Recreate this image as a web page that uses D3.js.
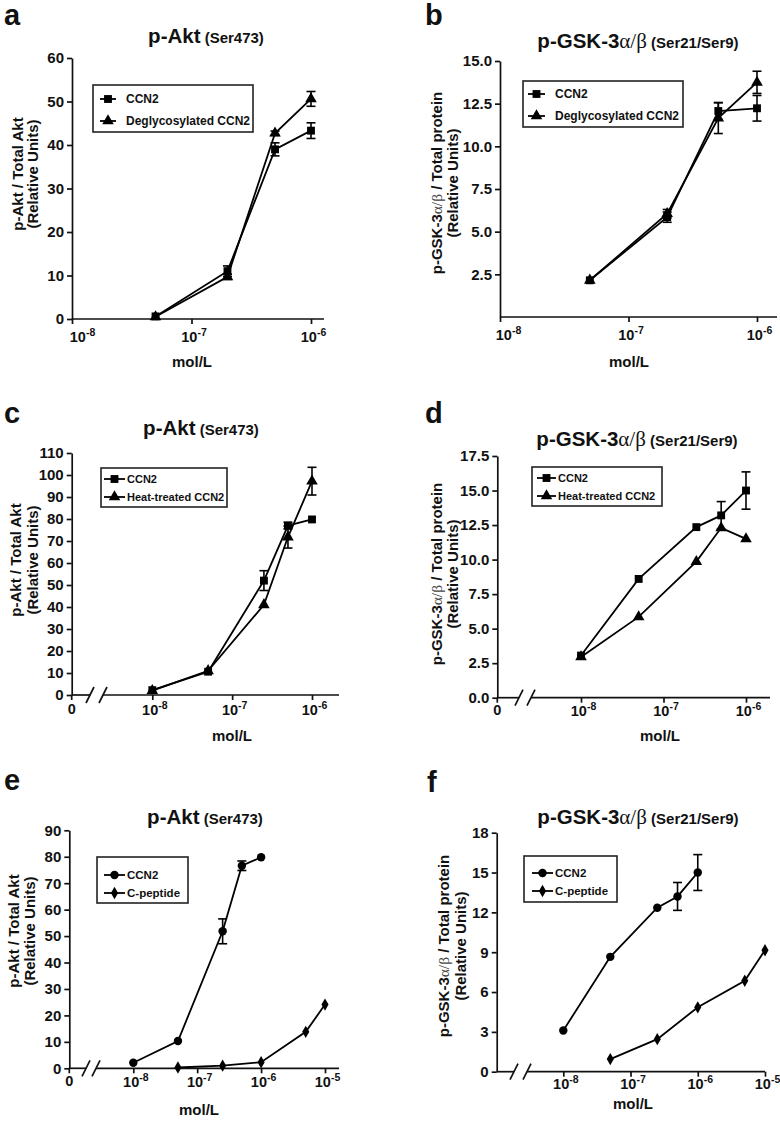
<!DOCTYPE html>
<html><head><meta charset="utf-8">
<script src="https://cdn.jsdelivr.net/npm/d3@7"></script>
<style>
body{margin:0;background:#fff}
svg{display:block}
</style>
</head><body>
<svg id="chart" width="780" height="1123"></svg>
<script>
// ---------------- DATA ----------------
// Panel a: p-Akt, CCN2 vs deglycosylated CCN2
const aConc = [5e-8, 2e-7, 5e-7, 1e-6];
const aCCN2 = [0.6, 11.0, 39.0, 43.3];
const aCCN2Err = [0, 1.2, 1.5, 1.8];
const aDegly = [0.5, 9.7, 42.7, 50.6];
const aDeglyErr = [0, 0.6, 0.5, 1.7];
const aYTicks = [0, 10, 20, 30, 40, 50, 60];

// Panel b: p-GSK-3a/b, CCN2 vs deglycosylated CCN2
const bConc = [5e-8, 2e-7, 5e-7, 1e-6];
const bCCN2 = [2.15, 5.85, 12.07, 12.23];
const bCCN2Err = [0, 0.3, 0.5, 0.75];
const bDegly = [2.15, 6.05, 11.65, 13.75];
const bDeglyErr = [0, 0.25, 0.9, 0.65];
const bYTicks = [2.5, 5.0, 7.5, 10.0, 12.5, 15.0];

// Panel c: p-Akt, CCN2 vs heat-treated CCN2
const cConc = [1e-8, 5e-8, 2.5e-7, 5e-7, 1e-6];
const cCCN2 = [2.2, 10.6, 52.0, 77.0, 79.8];
const cCCN2Err = [0, 0, 4.5, 1.5, 0];
const cHeat = [2.0, 11.0, 41.0, 71.8, 97.2];
const cHeatErr = [0, 0, 0, 5.0, 6.3];
const cYTicks = [0, 10, 20, 30, 40, 50, 60, 70, 80, 90, 100, 110];

// Panel d: p-GSK-3a/b, CCN2 vs heat-treated CCN2
const dConc = [1e-8, 5e-8, 2.5e-7, 5e-7, 1e-6];
const dCCN2 = [3.05, 8.6, 12.35, 13.2, 15.0];
const dCCN2Err = [0, 0, 0, 1.0, 1.35];
const dHeat = [2.95, 5.85, 9.85, 12.3, 11.5];
const dHeatErr = [0, 0, 0, 0, 0];
const dYTicks = [0, 2.5, 5.0, 7.5, 10.0, 12.5, 15.0, 17.5];

// Panel e: p-Akt, CCN2 vs C-peptide
const eConcCCN2 = [1e-8, 5e-8, 2.5e-7, 5e-7, 1e-6];
const eCCN2 = [2.1, 10.3, 51.8, 76.6, 79.8];
const eCCN2Err = [0, 0, 4.7, 1.8, 0];
const eConcCpep = [5e-8, 2.5e-7, 1e-6, 5e-6, 1e-5];
const eCpep = [0.3, 1.0, 2.3, 13.8, 24.1];
const eYTicks = [0, 10, 20, 30, 40, 50, 60, 70, 80, 90];

// Panel f: p-GSK-3a/b, CCN2 vs C-peptide
const fConcCCN2 = [1e-8, 5e-8, 2.5e-7, 5e-7, 1e-6];
const fCCN2 = [3.1, 8.65, 12.35, 13.2, 15.0];
const fCCN2Err = [0, 0, 0, 1.05, 1.35];
const fConcCpep = [5e-8, 2.5e-7, 1e-6, 5e-6, 1e-5];
const fCpep = [0.95, 2.45, 4.85, 6.85, 9.15];
const fYTicks = [0, 3, 6, 9, 12, 15, 18];

const xTicks3 = [1e-8, 1e-7, 1e-6];
const xTicks4 = [1e-8, 1e-7, 1e-6, 1e-5];

// ---------------- HELPERS ----------------
const SANS = '"Liberation Sans", Arial, Helvetica, sans-serif';
const SERIF = '"Liberation Serif", "Times New Roman", serif';
const INK = '#111';
const svg = d3.select('#chart');

function zip(conc, vals, errs) {
  return conc.map((c, i) => ({c, v: vals[i], e: errs ? errs[i] : 0}));
}

const symbols = {
  square: d3.symbol().type(d3.symbolSquare).size(62),
  triangle: d3.symbol().type(d3.symbolTriangle).size(58),
  circle: d3.symbol().type(d3.symbolCircle).size(56),
  diamond: d3.symbol().type(d3.symbolDiamond).size(44)
};

function titleParts(el, parts) {
  parts.forEach(p => {
    el.append('tspan')
      .text(p.t)
      .attr('font-size', p.s)
      .attr('font-weight', p.serif ? 'normal' : 'bold')
      .attr('font-family', p.serif ? SERIF : SANS)
      .attr('fill', p.fill || INK);
  });
}

function drawPanel(p) {
  const g = svg.append('g');
  const x = d3.scaleLog().domain(p.xDom).range(p.xRange);
  const y = d3.scaleLinear().domain(p.yDom).range(p.yRange);
  const y0 = p.yRange[0];

  // panel letter
  g.append('text').attr('x', p.letter[0]).attr('y', p.letter[1])
    .attr('font-family', SANS).attr('font-weight', 'bold').attr('font-size', 29)
    .attr('fill', INK).text(p.id);

  // title
  const t = g.append('text').attr('x', p.title[0]).attr('y', p.title[1])
    .attr('text-anchor', 'middle');
  titleParts(t, p.gsk
    ? [{t: 'p-GSK-3', s: 20.5}, {t: 'α/β', s: 21, serif: true}, {t: ' (Ser21/Ser9)', s: 15}]
    : [{t: 'p-Akt', s: 20.5}, {t: ' (Ser473)', s: 15}]);

  // y axis
  const ya = g.append('g').attr('transform', `translate(${p.ox},0)`)
    .call(d3.axisLeft(y).tickValues(p.yTicks).tickFormat(p.yFmt)
      .tickSize(5).tickSizeOuter(0).tickPadding(3));
  ya.select('.domain').attr('stroke', INK).attr('stroke-width', 1.7);
  ya.selectAll('.tick line').attr('stroke', INK).attr('stroke-width', 1.7);
  ya.selectAll('.tick text').attr('font-family', SANS).attr('font-weight', 'bold')
    .attr('font-size', 15).attr('fill', INK);

  // x axis ticks and labels
  const xa = g.append('g').attr('transform', `translate(0,${y0})`)
    .call(d3.axisBottom(x).tickValues(p.xTicks).tickFormat(() => '')
      .tickSize(5).tickSizeOuter(0));
  xa.select('.domain').remove();
  xa.selectAll('.tick line').attr('stroke', INK).attr('stroke-width', 1.7);
  xa.selectAll('.tick text').attr('font-family', SANS).attr('font-weight', 'bold')
    .attr('fill', INK).attr('y', p.xLabOff).attr('dy', null)
    .attr('x', (d, i) => (i === 0 && p.firstShift) ? p.firstShift : 2)
    .each(function(d) {
      const el = d3.select(this);
      el.text(null);
      el.append('tspan').attr('font-size', 14.5).text('10');
      el.append('tspan').attr('font-size', 10.5).attr('dy', -6)
        .text(String(Math.round(Math.log10(d))));
    });

  // x axis line (with optional break)
  const line = g.append('g').attr('stroke', INK).attr('stroke-width', 1.7).attr('fill', 'none');
  if (p.brk) {
    line.append('line').attr('x1', p.ox).attr('x2', p.brk[0]).attr('y1', y0).attr('y2', y0);
    line.append('line').attr('x1', p.brk[1]).attr('x2', p.xEnd).attr('y1', y0).attr('y2', y0);
    p.brk.forEach(cx => {
      line.append('line').attr('x1', cx - 4).attr('x2', cx + 4)
        .attr('y1', y0 + 8).attr('y2', y0 - 8);
    });
  } else {
    line.append('line').attr('x1', p.ox).attr('x2', p.xEnd).attr('y1', y0).attr('y2', y0);
  }
  if (p.zeroTick) {
    line.append('line').attr('x1', p.ox).attr('x2', p.ox).attr('y1', y0).attr('y2', y0 + 5);
  }
  if (p.zeroLabel) {
    g.append('text').attr('x', p.ox).attr('y', y0 + p.xLabOff - 1).attr('text-anchor', 'middle')
      .attr('font-family', SANS).attr('font-weight', 'bold').attr('font-size', 14.5)
      .attr('fill', INK).text('0');
  }

  // x axis title
  g.append('text').attr('x', p.xTitle[0]).attr('y', p.xTitle[1]).attr('text-anchor', 'middle')
    .attr('font-family', SANS).attr('font-weight', 'bold').attr('font-size', 15)
    .attr('fill', INK).text('mol/L');

  // y axis title (two lines)
  const yt1 = g.append('text')
    .attr('transform', `translate(${p.yTitle[0]},${p.yTitle[2]}) rotate(-90)`)
    .attr('text-anchor', 'middle').attr('dominant-baseline', 'central');
  titleParts(yt1, p.gsk
    ? [{t: 'p-GSK-3', s: 15}, {t: 'α/β', s: 15.5, serif: true, fill: '#444'}, {t: ' / Total protein', s: 15}]
    : [{t: 'p-Akt / Total Akt', s: 15}]);
  g.append('text')
    .attr('transform', `translate(${p.yTitle[1]},${p.yTitle[2]}) rotate(-90)`)
    .attr('text-anchor', 'middle').attr('dominant-baseline', 'central')
    .attr('font-family', SANS).attr('font-weight', 'bold').attr('font-size', 15)
    .attr('fill', INK).text('(Relative Units)');

  // series
  const lineGen = d3.line().x(d => x(d.c)).y(d => y(d.v));
  p.series.forEach(s => {
    g.append('path').datum(s.data).attr('d', lineGen)
      .attr('fill', 'none').attr('stroke', '#000').attr('stroke-width', 1.8);
  });
  p.series.forEach(s => {
    const eb = g.append('g').attr('stroke', '#000').attr('stroke-width', 1.6);
    s.data.filter(d => d.e > 0).forEach(d => {
      const cx = x(d.c), yl = y(d.v - d.e), yh = y(d.v + d.e);
      eb.append('line').attr('x1', cx).attr('x2', cx).attr('y1', yl).attr('y2', yh);
      eb.append('line').attr('x1', cx - 4.5).attr('x2', cx + 4.5).attr('y1', yl).attr('y2', yl);
      eb.append('line').attr('x1', cx - 4.5).attr('x2', cx + 4.5).attr('y1', yh).attr('y2', yh);
    });
  });
  p.series.forEach(s => {
    g.append('g').selectAll('path').data(s.data).join('path')
      .attr('transform', d => `translate(${x(d.c)},${y(d.v)})`)
      .attr('d', symbols[s.marker]).attr('fill', '#000');
  });

  // legend
  const L = p.legend;
  const lg = g.append('g');
  lg.append('rect').attr('x', L.x).attr('y', L.y).attr('width', L.w).attr('height', L.h)
    .attr('fill', '#fff').attr('stroke', '#222').attr('stroke-width', 1.6);
  p.series.forEach((s, i) => {
    const ry = L.rows[i];
    lg.append('line').attr('x1', L.l1).attr('x2', L.l2).attr('y1', ry).attr('y2', ry)
      .attr('stroke', '#000').attr('stroke-width', 1.8);
    lg.append('path').attr('transform', `translate(${(L.l1 + L.l2) / 2},${ry})`)
      .attr('d', symbols[s.marker]).attr('fill', '#000');
    lg.append('text').attr('x', L.tx).attr('y', ry).attr('dominant-baseline', 'central')
      .attr('font-family', SANS).attr('font-weight', 'bold').attr('font-size', L.fs)
      .attr('fill', INK).text(s.name);
  });
}

const fmtInt = d3.format('d');
const fmt1 = d3.format('.1f');

const panels = [
  {id: 'a', gsk: false, letter: [4, 25], title: [206, 43],
   ox: 72, xDom: [1e-8, 1e-6], xRange: [72, 311], xEnd: 324, xTicks: xTicks3, xLabOff: 23, firstShift: 10,
   yDom: [0, 60], yRange: [319, 58], yTicks: aYTicks, yFmt: fmtInt,
   xTitle: [192, 367], yTitle: [17, 32, 174],
   series: [
     {name: 'CCN2', marker: 'square', data: zip(aConc, aCCN2, aCCN2Err)},
     {name: 'Deglycosylated CCN2', marker: 'triangle', data: zip(aConc, aDegly, aDeglyErr)}],
   legend: {x: 93, y: 85, w: 160, h: 47, rows: [99, 121], l1: 100, l2: 116, tx: 126, fs: 12}},
  {id: 'b', gsk: true, letter: [425, 25], title: [638, 48],
   ox: 500, xDom: [1e-8, 1e-6], xRange: [500, 757], xEnd: 777, xTicks: xTicks3, xLabOff: 23, firstShift: 8,
   yDom: [0, 15], yRange: [317, 61], yTicks: bYTicks, yFmt: fmt1,
   xTitle: [629, 367], yTitle: [436, 452, 183],
   series: [
     {name: 'CCN2', marker: 'square', data: zip(bConc, bCCN2, bCCN2Err)},
     {name: 'Deglycosylated CCN2', marker: 'triangle', data: zip(bConc, bDegly, bDeglyErr)}],
   legend: {x: 523, y: 81, w: 160, h: 46, rows: [94, 116], l1: 528, l2: 545, tx: 555, fs: 12}},
  {id: 'c', gsk: false, letter: [4, 423], title: [201, 435],
   ox: 71.7, xDom: [1e-8, 1e-6], xRange: [152.3, 312], xEnd: 339, xTicks: xTicks3, xLabOff: 20,
   brk: [90, 103], zeroTick: true, zeroLabel: true,
   yDom: [0, 110], yRange: [695, 453], yTicks: cYTicks, yFmt: fmtInt,
   xTitle: [232, 741], yTitle: [15, 32, 560],
   series: [
     {name: 'CCN2', marker: 'square', data: zip(cConc, cCCN2, cCCN2Err)},
     {name: 'Heat-treated CCN2', marker: 'triangle', data: zip(cConc, cHeat, cHeatErr)}],
   legend: {x: 101, y: 468, w: 126, h: 39, rows: [479, 497], l1: 104, l2: 125, tx: 127, fs: 11}},
  {id: 'd', gsk: true, letter: [425, 423], title: [637, 446],
   ox: 497.3, xDom: [1e-8, 1e-6], xRange: [581, 746], xEnd: 770, xTicks: xTicks3, xLabOff: 18,
   brk: [519, 531], zeroTick: true, zeroLabel: true,
   yDom: [0, 17.5], yRange: [697.7, 456], yTicks: dYTicks, yFmt: fmt1,
   xTitle: [660, 741], yTitle: [436, 452, 574],
   series: [
     {name: 'CCN2', marker: 'square', data: zip(dConc, dCCN2, dCCN2Err)},
     {name: 'Heat-treated CCN2', marker: 'triangle', data: zip(dConc, dHeat, dHeatErr)}],
   legend: {x: 532, y: 467, w: 130, h: 39, rows: [478, 496], l1: 537, l2: 556, tx: 558, fs: 11}},
  {id: 'e', gsk: false, letter: [4, 790], title: [205, 824],
   ox: 69.3, xDom: [1e-8, 1e-5], xRange: [133.3, 325], xEnd: 339, xTicks: xTicks4, xLabOff: 19,
   brk: [86, 96], zeroTick: true, zeroLabel: true,
   yDom: [0, 90], yRange: [1068.3, 830.3], yTicks: eYTicks, yFmt: fmtInt,
   xTitle: [199, 1115], yTitle: [13, 29, 931],
   series: [
     {name: 'CCN2', marker: 'circle', data: zip(eConcCCN2, eCCN2, eCCN2Err)},
     {name: 'C-peptide', marker: 'diamond', data: zip(eConcCpep, eCpep, null)}],
   legend: {x: 97, y: 857, w: 91, h: 46, rows: [875, 893], l1: 104, l2: 125, tx: 127, fs: 11.5}},
  {id: 'f', gsk: true, letter: [427, 792], title: [638, 824],
   ox: 496.7, xDom: [1e-8, 1e-5], xRange: [563.3, 765], xEnd: 765, xTicks: xTicks4, xLabOff: 17,
   brk: [514, 527], zeroTick: false, zeroLabel: false,
   yDom: [0, 18], yRange: [1071.7, 832.7], yTicks: fYTicks, yFmt: fmtInt,
   xTitle: [633, 1109], yTitle: [443, 460, 946],
   series: [
     {name: 'CCN2', marker: 'circle', data: zip(fConcCCN2, fCCN2, fCCN2Err)},
     {name: 'C-peptide', marker: 'diamond', data: zip(fConcCpep, fCpep, null)}],
   legend: {x: 524, y: 856, w: 93, h: 46, rows: [873, 891], l1: 532, l2: 553, tx: 555, fs: 11.5}}
];

panels.forEach(drawPanel);
</script>
</body></html>
